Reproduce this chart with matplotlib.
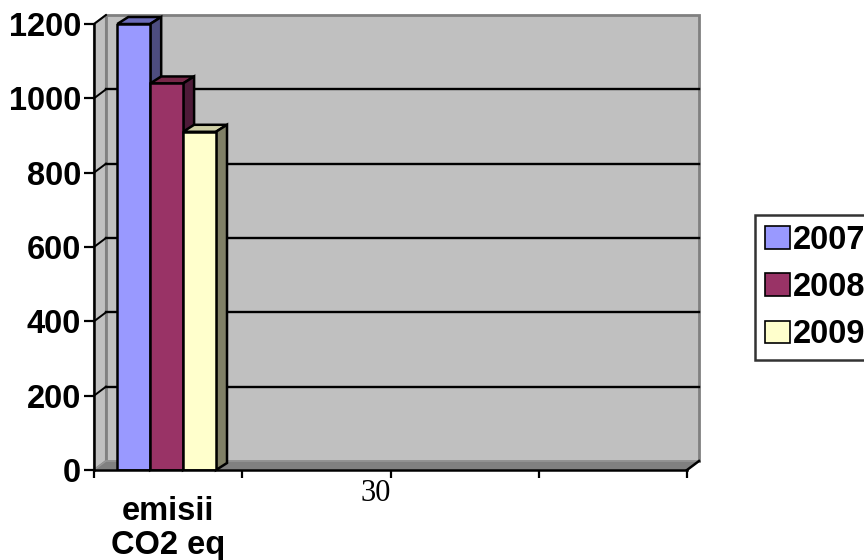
import matplotlib
matplotlib.use("Agg")
import matplotlib.pyplot as plt
from matplotlib.patches import Polygon, Rectangle

# data
years = ["2007", "2008", "2009"]
emisii = [1200, 1040, 910]
categ_label = "emisii\nCO2 eq"
x_ticklabels = ["", "", "30", "", ""]
y_ticks = [0, 200, 400, 600, 800, 1000, 1200]

front_colors = ["#9999FF", "#993366", "#FFFFCC"]
top_colors = ["#6B6BB8", "#772849", "#CFCFA6"]
side_colors = ["#4D4D80", "#4D1A38", "#808066"]

plt.rcParams["font.family"] = ["Liberation Sans", "DejaVu Sans"]
FS = 23.5

W, H = 864, 560
fig = plt.figure(figsize=(W / 100, H / 100), dpi=100)
x0, x1, y0, y1 = 94, 687, 470, 24
ax = fig.add_axes([x0 / W, 1 - y0 / H, (x1 - x0) / W, (y0 - y1) / H])
ax.set_xlim(0, 4)
ax.set_ylim(0, 1200)
ax.set_facecolor("none")

# pixel -> data units for the 3d depth
px_x = (x1 - x0) / 4
px_y = (y0 - y1) / 1200
wdx, wdy = 12 / px_x, 9 / px_y
bdx, bdy = 11 / px_x, 7 / px_y

# walls and floor
side = Polygon([(0, 0), (wdx, wdy), (wdx, 1200 + wdy), (0, 1200)],
               closed=True, fc="#C0C0C0", ec="#808080", lw=1.5, clip_on=False, zorder=0)
back = Rectangle((wdx, wdy), 4, 1200, fc="#C0C0C0", ec="#808080", lw=2,
                 clip_on=False, zorder=0)
floor = Polygon([(0, 0), (4, 0), (4 + wdx, wdy), (wdx, wdy)],
                closed=True, fc="#808080", ec="#999999", lw=1, clip_on=False, zorder=0.5)
for p in (side, back, floor):
    ax.add_patch(p)

for v in y_ticks[1:-1]:
    ax.plot([wdx, 4 + wdx], [v + wdy, v + wdy], color="black", lw=1.7, zorder=1, clip_on=False)
for v in y_ticks[1:]:
    ax.plot([0, wdx], [v, v + wdy], color="black", lw=1.4, zorder=1, clip_on=False)
ax.plot([4, 4 + wdx], [0, wdy], color="black", lw=1.8, zorder=1, clip_on=False)

# bars with 3d top and side faces
bw = 0.222
centers = [0.49 - bw, 0.49, 0.49 + bw]
for i, (yr, val) in enumerate(zip(years, emisii)):
    c = centers[i]
    l, r = c - bw / 2, c + bw / 2
    ax.bar(c, val, width=bw, color=front_colors[i], edgecolor="black",
           linewidth=1.8, label=yr, zorder=3)
    top = Polygon([(l, val), (r, val), (r + bdx, val + bdy), (l + bdx, val + bdy)],
                  closed=True, fc=top_colors[i], ec="black", lw=1.8, clip_on=False, zorder=2)
    sd = Polygon([(r, 0), (r + bdx, bdy), (r + bdx, val + bdy), (r, val)],
                 closed=True, fc=side_colors[i], ec="black", lw=1.8, clip_on=False, zorder=2)
    ax.add_patch(top)
    ax.add_patch(sd)

# axes
for s in ("top", "right"):
    ax.spines[s].set_visible(False)
for s in ("left", "bottom"):
    ax.spines[s].set_linewidth(1.8)
    ax.spines[s].set_zorder(4)

ax.set_yticks(y_ticks)
ax.set_yticklabels([str(v) for v in y_ticks], fontsize=FS, fontweight="bold")
ax.tick_params(axis="y", length=7.2, width=1.6, pad=2)

ax.set_xticks(range(5))
ax.set_xticklabels(x_ticklabels, fontsize=22, family="Liberation Serif", ha="right")
ax.set_xticks([0.5], [categ_label], minor=True)
ax.tick_params(axis="x", which="major", length=5.8, width=1.6, pad=1)
ax.tick_params(axis="x", which="minor", length=0, pad=19, labelsize=FS)
for t in ax.get_xticklabels(minor=True):
    t.set_fontweight("bold")
    t.set_linespacing(1.1)

leg = fig.legend(loc="upper left", bbox_to_anchor=(755 / W, 1 - 215 / H),
                 prop={"weight": "bold", "size": FS},
                 frameon=True, fancybox=False, shadow=False,
                 handlelength=0.77, handleheight=0.68, handletextpad=0.1,
                 borderpad=0.3, labelspacing=0.5, borderaxespad=0)
leg.get_frame().set_edgecolor("black")
leg.get_frame().set_linewidth(1.8)
for h in leg.legend_handles:
    h.set_linewidth(1.2)

fig.savefig("out.png", dpi=100)
